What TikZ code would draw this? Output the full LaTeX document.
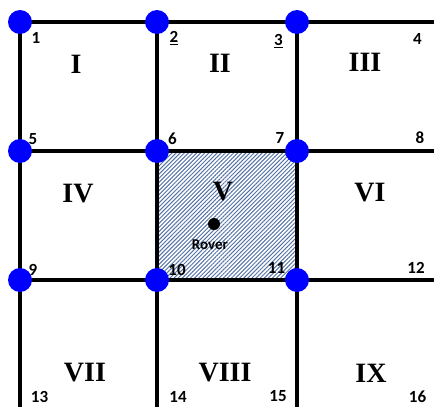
\documentclass[tikz,border=0pt]{standalone}
\usepackage{fontspec}
\setmainfont{Liberation Serif}
\newfontfamily\numfont{Carlito}
\usepackage{tikz}
\usetikzlibrary{positioning,patterns.meta}
\definecolor{hatchblue}{RGB}{85,115,165}
\tikzstyle{vertex} = [draw=none, fill=blue, circle, minimum size=24pt, inner sep=0pt]
\tikzstyle{gridline} = [line width=4.5pt, black]
\tikzstyle{num} = [font=\numfont\bfseries\fontsize{17}{17}\selectfont, inner sep=0pt]
\tikzstyle{cell} = [font=\bfseries\fontsize{28}{28}\selectfont, inner sep=0pt]
\tikzstyle{rover} = [fill=black, circle, minimum size=12pt, inner sep=0pt]
\tikzstyle{tag} = [font=\numfont\bfseries\fontsize{15}{15}\selectfont, inner sep=0pt]
\tikzstyle{hatch} = [pattern={Lines[angle=45, distance=2.9pt, line width=1pt]}, pattern color=hatchblue]

\begin{document}
\begin{tikzpicture}[x=1pt, y=-1pt]
    \useasboundingbox (0,0) rectangle (434,407);
    % Define the grid points
    \coordinate (p1) at (20,22);
    \coordinate (p2) at (157,22);
    \coordinate (p3) at (297,22);
    \coordinate (p4) at (434,22);
    \coordinate (p5) at (20,151);
    \coordinate (p6) at (157,151);
    \coordinate (p7) at (297,151);
    \coordinate (p8) at (434,151);
    \coordinate (p9) at (20,280);
    \coordinate (p10) at (157,280);
    \coordinate (p11) at (297,280);
    \coordinate (p12) at (434,280);
    \coordinate (p13) at (20,407);
    \coordinate (p14) at (157,407);
    \coordinate (p15) at (297,407);
    % Hatched cell
    \fill [hatch] (p6) rectangle (p11);
    % Connect the grid points
    \draw [gridline] (p1) -- (p2) -- (p3) -- (p4);
    \draw [gridline] (p5) -- (p6) -- (p7) -- (p8);
    \draw [gridline] (p9) -- (p10) -- (p11) -- (p12);
    \draw [gridline] (p1) -- (p5) -- (p9) -- (p13);
    \draw [gridline] (p2) -- (p6) -- (p10) -- (p14);
    \draw [gridline] (p3) -- (p7) -- (p11) -- (p15);
    % Blue vertices
    \foreach \i in {1,2,3,5,6,7,9,10,11}
        \node [vertex] (v\i) at (p\i) {};
    % Point numbers
    \node [num] (n1) at (36,38) {1};
    \node [num] (n2) at (174,38) {\underline{2}};
    \node [num] (n3) at (278.5,41) {\underline{3}};
    \node [num] (n4) at (417.5,39) {4};
    \node [num] (n5) at (33,139) {5};
    \node [num] (n6) at (172.5,139) {6};
    \node [num] (n7) at (280,137.5) {7};
    \node [num] (n8) at (420,137.5) {8};
    \node [num] (n9) at (33,269.5) {9};
    \node [num] (n10) at (177,269.5) {10};
    \node [num] (n11) at (276.5,268) {11};
    \node [num] (n12) at (416,267.5) {12};
    \node [num] (n13) at (39.5,397) {13};
    \node [num] (n14) at (178,397) {14};
    \node [num] (n15) at (278,396) {15};
    \node [num] (n16) at (417.5,397) {16};
    % Cell names
    \node [cell] (cI) at (76,64) {I};
    \node [cell] (cII) at (220,63) {II};
    \node [cell] (cIII) at (365,62) {III};
    \node [cell] (cIV) at (78,194) {IV};
    \node [cell] (cV) at (223,192) {V};
    \node [cell] (cVI) at (370,193) {VI};
    \node [cell] (cVII) at (85,373) {VII};
    \node [cell] (cVIII) at (225,373) {VIII};
    \node [cell] (cIX) at (371,373) {IX};
    % Rover
    \node [rover] (rover) at (214,224) {};
    \node [tag, below=9pt of rover, xshift=-4pt] (roverlbl) {Rover};
\end{tikzpicture}
\end{document}
